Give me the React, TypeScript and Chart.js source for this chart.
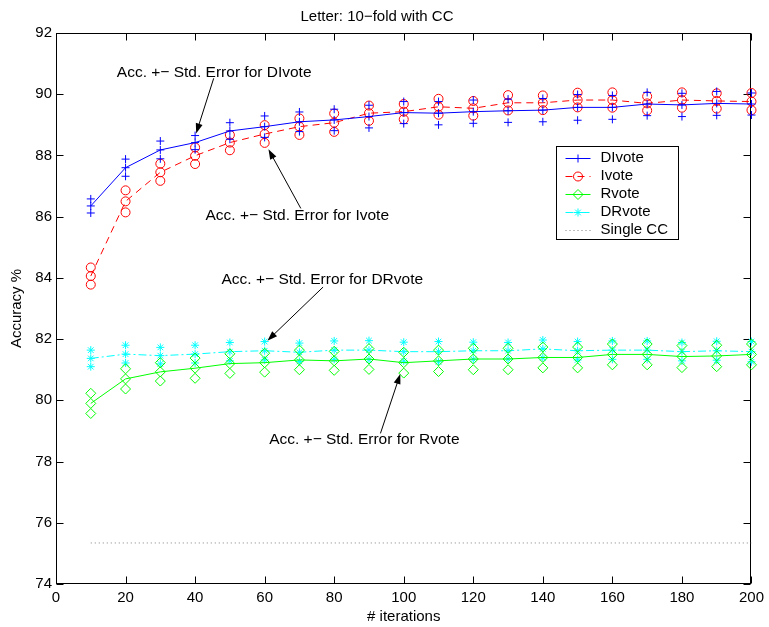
import React, { useEffect, useRef } from 'react';
import { Chart, registerables } from 'chart.js';

Chart.register(...registerables);

const FONT = '"Liberation Sans", Arial, Helvetica, sans-serif';

const titleText = 'Letter: 10−fold with CC';
const xTitle = '# iterations';
const yTitle = 'Accuracy %';

const iterations = [10, 20, 30, 40, 50, 60, 70, 80, 90, 100, 110, 120, 130, 140, 150, 160, 170, 180, 190, 200];
const xTicks = [0, 20, 40, 60, 80, 100, 120, 140, 160, 180, 200];
const yTicks = [74, 76, 78, 80, 82, 84, 86, 88, 90, 92];

const dIvoteMean = [86.35, 87.6, 88.18, 88.42, 88.8, 88.94, 89.1, 89.16, 89.27, 89.4, 89.38, 89.43, 89.46, 89.48, 89.57, 89.57, 89.68, 89.65, 89.7, 89.68];
const dIvoteErr = [0.23, 0.28, 0.29, 0.23, 0.27, 0.35, 0.32, 0.35, 0.37, 0.36, 0.38, 0.38, 0.38, 0.38, 0.42, 0.39, 0.38, 0.38, 0.39, 0.36];

const iVoteMean = [84.06, 86.5, 87.45, 87.99, 88.42, 88.7, 88.94, 89.07, 89.38, 89.43, 89.59, 89.54, 89.72, 89.72, 89.81, 89.81, 89.7, 89.81, 89.78, 89.76];
const iVoteErr = [0.28, 0.36, 0.28, 0.27, 0.25, 0.29, 0.27, 0.3, 0.25, 0.25, 0.26, 0.24, 0.25, 0.24, 0.24, 0.25, 0.23, 0.25, 0.25, 0.28];

const rVoteMean = [79.9, 80.7, 80.93, 81.05, 81.2, 81.23, 81.32, 81.29, 81.35, 81.23, 81.29, 81.35, 81.35, 81.4, 81.4, 81.5, 81.5, 81.43, 81.45, 81.5];
const rVoteErr = [0.33, 0.33, 0.3, 0.33, 0.32, 0.31, 0.32, 0.31, 0.34, 0.34, 0.35, 0.35, 0.35, 0.34, 0.34, 0.34, 0.34, 0.36, 0.35, 0.34];

const dRvoteMean = [81.37, 81.51, 81.46, 81.51, 81.59, 81.62, 81.57, 81.64, 81.64, 81.59, 81.59, 81.62, 81.62, 81.68, 81.62, 81.64, 81.64, 81.59, 81.62, 81.59];
const dRvoteErr = [0.27, 0.29, 0.27, 0.29, 0.3, 0.3, 0.3, 0.3, 0.31, 0.31, 0.33, 0.28, 0.27, 0.29, 0.3, 0.3, 0.3, 0.3, 0.31, 0.33];

const singleCC = 75.34;

// annotation texts with anchor (data coords) and arrow start -> tip (data coords)
const noteTexts = ['Acc. +− Std. Error for DIvote', 'Acc. +− Std. Error for Ivote', 'Acc. +− Std. Error for DRvote', 'Acc. +− Std. Error for Rvote'];
const noteTextX = [17.5, 43.0, 47.6, 61.3];
const noteTextY = [90.69, 86.03, 83.93, 78.7];
const arrowFromX = [45.35, 70.4, 76.8, 93.3];
const arrowFromY = [90.52, 86.27, 83.7, 78.92];
const arrowToX = [40.3, 61.1, 60.8, 99.0];
const arrowToY = [88.72, 88.2, 81.95, 80.86];

const series = [
  { label: 'DIvote', mean: dIvoteMean, err: dIvoteErr, color: '#0000ff', point: 'cross', radius: 4, dash: [] as number[] },
  { label: 'Ivote', mean: iVoteMean, err: iVoteErr, color: '#ff0000', point: 'circle', radius: 4.5, dash: [7, 5] },
  { label: 'Rvote', mean: rVoteMean, err: rVoteErr, color: '#00ff00', point: 'rectRot', radius: 5, dash: [] as number[] },
  { label: 'DRvote', mean: dRvoteMean, err: dRvoteErr, color: '#00ffff', point: 'star', radius: 4, dash: [8, 3, 2, 3] },
];
const singleLabel = 'Single CC';
const singleColor = '#808080';

function drawMarker(ctx: CanvasRenderingContext2D, style: string, x: number, y: number, r: number) {
  ctx.beginPath();
  if (style === 'cross') {
    ctx.moveTo(x - r, y); ctx.lineTo(x + r, y);
    ctx.moveTo(x, y - r); ctx.lineTo(x, y + r);
  } else if (style === 'circle') {
    ctx.arc(x, y, r, 0, Math.PI * 2);
  } else if (style === 'rectRot') {
    ctx.moveTo(x, y - r); ctx.lineTo(x + r, y); ctx.lineTo(x, y + r); ctx.lineTo(x - r, y); ctx.closePath();
  } else if (style === 'star') {
    ctx.moveTo(x - r, y); ctx.lineTo(x + r, y);
    ctx.moveTo(x, y - r); ctx.lineTo(x, y + r);
    const d = r * Math.SQRT1_2;
    ctx.moveTo(x - d, y - d); ctx.lineTo(x + d, y + d);
    ctx.moveTo(x - d, y + d); ctx.lineTo(x + d, y - d);
  }
  ctx.stroke();
}

const framePlugin = {
  id: 'matlabFrame',
  beforeDatasetsDraw(chart: any) {
    const { ctx, chartArea, scales } = chart;
    const { left, right, top, bottom } = chartArea;
    ctx.save();
    ctx.strokeStyle = '#000';
    ctx.lineWidth = 1;
    const L = Math.round(left) + 0.5, R = Math.round(right) - 0.5, T = Math.round(top) + 0.5, B = Math.round(bottom) - 0.5;
    ctx.strokeRect(L, T, R - L, B - T);
    const tl = 7;
    ctx.beginPath();
    xTicks.forEach((v) => {
      const px = Math.round(scales.x.getPixelForValue(v)) + 0.5;
      ctx.moveTo(px, B); ctx.lineTo(px, B - tl);
      ctx.moveTo(px, T); ctx.lineTo(px, T + tl);
    });
    yTicks.forEach((v) => {
      const py = Math.round(scales.y.getPixelForValue(v)) + 0.5;
      ctx.moveTo(L, py); ctx.lineTo(L + tl, py);
      ctx.moveTo(R, py); ctx.lineTo(R - tl, py);
    });
    ctx.stroke();
    ctx.restore();
  },
  afterDraw(chart: any) {
    const { ctx, chartArea, scales } = chart;
    const { right, top } = chartArea;
    ctx.save();
    // annotations
    ctx.font = `15.5px ${FONT}`;
    ctx.fillStyle = '#000';
    ctx.strokeStyle = '#000';
    ctx.lineWidth = 1;
    ctx.textBaseline = 'middle';
    ctx.textAlign = 'left';
    noteTexts.forEach((t, i) => {
      ctx.fillText(t, scales.x.getPixelForValue(noteTextX[i]), scales.y.getPixelForValue(noteTextY[i]));
      const x0 = scales.x.getPixelForValue(arrowFromX[i]);
      const y0 = scales.y.getPixelForValue(arrowFromY[i]);
      const x1 = scales.x.getPixelForValue(arrowToX[i]);
      const y1 = scales.y.getPixelForValue(arrowToY[i]);
      const ang = Math.atan2(y1 - y0, x1 - x0);
      const hl = 10, hw = 3.5;
      ctx.beginPath();
      ctx.moveTo(x0, y0);
      ctx.lineTo(x1 - Math.cos(ang) * hl * 0.8, y1 - Math.sin(ang) * hl * 0.8);
      ctx.stroke();
      ctx.beginPath();
      ctx.moveTo(x1, y1);
      ctx.lineTo(x1 - Math.cos(ang) * hl - Math.sin(ang) * hw, y1 - Math.sin(ang) * hl + Math.cos(ang) * hw);
      ctx.lineTo(x1 - Math.cos(ang) * hl + Math.sin(ang) * hw, y1 - Math.sin(ang) * hl - Math.cos(ang) * hw);
      ctx.closePath();
      ctx.fill();
    });
    // legend
    ctx.font = `15px ${FONT}`;
    const bx = Math.round(right - 195) + 0.5;
    const by = Math.round(top + 113) + 0.5;
    const bw = 122, bh = 93;
    ctx.fillStyle = '#fff';
    ctx.fillRect(bx, by, bw, bh);
    ctx.strokeStyle = '#000';
    ctx.lineWidth = 1;
    ctx.strokeRect(bx, by, bw, bh);
    const entries = [...series.map((s) => ({ label: s.label, color: s.color, point: s.point, radius: s.radius, dash: s.dash })),
      { label: singleLabel, color: singleColor, point: '', radius: 0, dash: [1, 3] }];
    entries.forEach((e, i) => {
      const cy = by + 11 + i * 18.1;
      const lx0 = bx + 9, lx1 = bx + 34, mx = (lx0 + lx1) / 2;
      ctx.strokeStyle = e.color;
      ctx.lineWidth = 1;
      ctx.setLineDash(e.dash);
      ctx.beginPath();
      ctx.moveTo(lx0, Math.round(cy) + 0.5);
      ctx.lineTo(lx1, Math.round(cy) + 0.5);
      ctx.stroke();
      ctx.setLineDash([]);
      if (e.point) drawMarker(ctx, e.point, mx, Math.round(cy) + 0.5, e.radius);
      ctx.fillStyle = '#000';
      ctx.fillText(e.label, bx + 44, cy);
    });
    ctx.restore();
  },
};

export default function App() {
  const ref = useRef<HTMLCanvasElement | null>(null);
  useEffect(() => {
    if (!ref.current) return;
    const datasets: any[] = [];
    series.forEach((s) => {
      const base = {
        borderColor: s.color,
        backgroundColor: s.color,
        pointStyle: s.point,
        pointRadius: s.radius,
        pointBorderColor: s.color,
        pointBackgroundColor: 'rgba(0,0,0,0)',
        pointBorderWidth: 1,
        borderWidth: 1,
        fill: false,
        tension: 0,
        clip: false,
      };
      datasets.push({ ...base, label: s.label, borderDash: s.dash, data: iterations.map((x, i) => ({ x, y: s.mean[i] })) });
      datasets.push({ ...base, label: s.label + ' +', showLine: false, data: iterations.map((x, i) => ({ x, y: s.mean[i] + s.err[i] })) });
      datasets.push({ ...base, label: s.label + ' −', showLine: false, data: iterations.map((x, i) => ({ x, y: s.mean[i] - s.err[i] })) });
    });
    datasets.push({
      label: singleLabel,
      borderColor: singleColor,
      borderDash: [1, 3],
      borderWidth: 1,
      pointRadius: 0,
      fill: false,
      data: iterations.map((x) => ({ x, y: singleCC })),
    });
    const tickFont = { size: 15, family: FONT };
    const chart = new Chart(ref.current, {
      type: 'line',
      data: { datasets },
      options: {
        responsive: false,
        animation: false,
        events: [],
        layout: { padding: { top: 0, right: 15, left: 0, bottom: 0 } },
        plugins: {
          legend: { display: false },
          tooltip: { enabled: false },
          title: {
            display: true,
            text: titleText,
            color: '#000',
            font: { size: 15, weight: 'normal', family: FONT },
            padding: { top: 8, bottom: 7 },
          },
        },
        scales: {
          x: {
            type: 'linear',
            min: 0,
            max: 200,
            afterBuildTicks: (s: any) => { s.ticks = xTicks.map((v) => ({ value: v })); },
            grid: { display: false, drawTicks: false },
            border: { display: false },
            ticks: { color: '#000', font: tickFont, padding: 5, maxRotation: 0, autoSkip: false },
            title: { display: true, text: xTitle, color: '#000', font: tickFont, padding: { top: 0, bottom: 1 } },
            afterFit: (s: any) => { s.height = 43; },
          },
          y: {
            type: 'linear',
            min: 74,
            max: 92,
            afterBuildTicks: (s: any) => { s.ticks = yTicks.map((v) => ({ value: v })); },
            grid: { display: false, drawTicks: false },
            border: { display: false },
            ticks: { color: '#000', font: tickFont, padding: 4, autoSkip: false },
            title: { display: true, text: yTitle, color: '#000', font: tickFont, padding: { top: 8, bottom: 0 } },
            afterFit: (s: any) => { s.width = 56; },
          },
        },
      } as any,
      plugins: [framePlugin],
    });
    return () => chart.destroy();
  }, []);
  return (
    <div style={{ position: 'absolute', left: 0, top: 0, width: 769, height: 627, background: '#fff' }}>
      <canvas ref={ref} width={769} height={627} style={{ display: 'block' }} />
    </div>
  );
}
